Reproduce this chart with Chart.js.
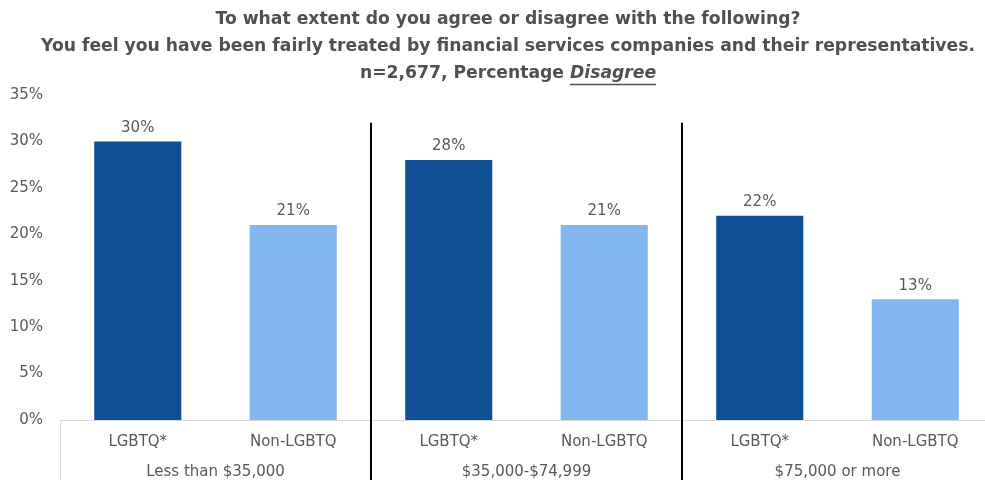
<!DOCTYPE html>
<html><head><meta charset="utf-8">
<script src="https://cdn.jsdelivr.net/npm/chart.js@4/dist/chart.umd.min.js"></script>
<style>
html,body{margin:0;padding:0;overflow:hidden;background:#fff;width:985px;height:480px}
#wrap{position:absolute;left:0;top:0;width:1016px;height:480px}
</style>
</head><body><div id="wrap"><canvas id="c"></canvas></div>
<script>
const titleLine1 = "To what extent do you agree or disagree with the following?";
const titleLine2 = "You feel you have been fairly treated by financial services companies and their representatives.";
const titleLine3Prefix = "n=2,677, Percentage ";
const titleLine3Emph = "Disagree";

const groups = ["Less than $35,000", "$35,000-$74,999", "$75,000 or more"];
const segments = ["LGBTQ*", "Non-LGBTQ"];
const lgbtqValues = [30, 28, 22];
const nonLgbtqValues = [21, 21, 13];
const yMax = 35;
const yStep = 5;

const DARK = '#104F94';
const LIGHT = '#83B7EF';
const TEXT = '#595959';
const FONT = '"DejaVu Sans", sans-serif';
const TITLE_FONT = '"DejaVu Sans", sans-serif';
const TITLE_SIZE = 17.2;

const labels = [];
const data = [];
const colors = [];
groups.forEach((g, i) => {
  labels.push(segments[0]); data.push(lgbtqValues[i]); colors.push(DARK);
  labels.push(segments[1]); data.push(nonLgbtqValues[i]); colors.push(LIGHT);
});

const decorPlugin = {
  id: 'decor',
  afterDraw(chart) {
    const ctx = chart.ctx;
    const x = chart.scales.x, y = chart.scales.y;
    const H = chart.height;
    ctx.save();
    // title
    ctx.fillStyle = '#505050';
    ctx.textAlign = 'center';
    ctx.textBaseline = 'middle';
    const cx = chart.width / 2;
    const f = 'bold ' + TITLE_SIZE + 'px ' + TITLE_FONT;
    const fi = 'italic bold ' + TITLE_SIZE + 'px ' + TITLE_FONT;
    ctx.font = f;
    ctx.fillText(titleLine1, cx, 20);
    ctx.fillText(titleLine2, cx, 47);
    const w1 = ctx.measureText(titleLine3Prefix).width;
    ctx.font = fi;
    const w2 = ctx.measureText(titleLine3Emph).width;
    const sx = cx - (w1 + w2) / 2;
    ctx.textAlign = 'left';
    ctx.font = f;
    ctx.fillText(titleLine3Prefix, sx, 74);
    ctx.font = fi;
    ctx.fillText(titleLine3Emph, sx + w1, 74);
    ctx.strokeStyle = '#505050';
    ctx.lineWidth = 1.4;
    ctx.beginPath();
    ctx.moveTo(sx + w1, 84.5); ctx.lineTo(sx + w1 + w2, 84.5);
    ctx.stroke();

    // gray outer lines below axis
    ctx.strokeStyle = '#D9D9D9';
    ctx.lineWidth = 1;
    [-0.5, labels.length - 0.5].forEach(v => {
      const px = Math.round(x.getPixelForValue(v)) + 0.5;
      ctx.beginPath(); ctx.moveTo(px, chart.chartArea.bottom); ctx.lineTo(px, H); ctx.stroke();
    });
    // black separators
    ctx.strokeStyle = '#000';
    ctx.lineWidth = 2;
    for (let i = 1; i < groups.length; i++) {
      const px = Math.round(x.getPixelForValue(i * 2 - 0.5));
      ctx.beginPath(); ctx.moveTo(px, y.getPixelForValue(32)); ctx.lineTo(px, H); ctx.stroke();
    }
    // data labels
    ctx.fillStyle = TEXT;
    ctx.font = '15px ' + FONT;
    ctx.textAlign = 'center';
    ctx.textBaseline = 'bottom';
    const meta = chart.getDatasetMeta(0);
    meta.data.forEach((bar, i) => {
      ctx.fillText(data[i] + '%', bar.x, bar.y - 6);
    });
    ctx.restore();
  }
};

new Chart(document.getElementById('c'), {
  type: 'bar',
  data: {
    labels: labels,
    datasets: [{ data: data, backgroundColor: colors, borderWidth: 0, barPercentage: 0.56, categoryPercentage: 1 }]
  },
  options: {
    responsive: true,
    maintainAspectRatio: false,
    animation: false,
    layout: { padding: { top: 95, right: 23, left: 0, bottom: 0 } },
    plugins: { legend: { display: false }, tooltip: { enabled: false }, title: { display: false } },
    scales: {
      x: {
        type: 'category',
        position: 'bottom',
        weight: 0,
        offset: true,
        grid: { display: false, drawTicks: false },
        border: { display: true, color: '#D9D9D9', width: 1 },
        ticks: { color: TEXT, font: { family: FONT, size: 15 }, padding: 13, maxRotation: 0, autoSkip: false },
        afterFit(s) { s.height = 33; }
      },
      x2: {
        type: 'category',
        position: 'bottom',
        weight: 1,
        labels: groups,
        offset: true,
        grid: { display: false, drawTicks: false },
        border: { display: false },
        ticks: { color: TEXT, font: { family: FONT, size: 15 }, padding: 10, maxRotation: 0, autoSkip: false },
        afterFit(s) { s.height = 27; }
      },
      y: {
        min: 0, max: yMax,
        grid: { display: false, drawTicks: false },
        border: { display: false },
        ticks: { stepSize: yStep, color: TEXT, font: { family: FONT, size: 15 }, padding: 17, callback: v => v + '%' },
        afterFit(s) { s.width = 60; }
      }
    }
  },
  plugins: [decorPlugin]
});
</script>
</body></html>
